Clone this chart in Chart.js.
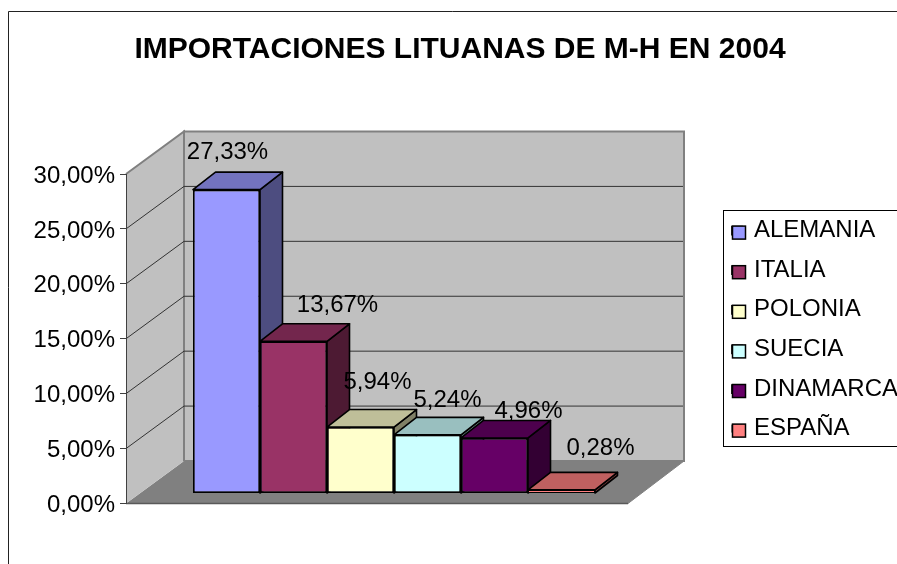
<!DOCTYPE html>
<html>
<head>
<meta charset="utf-8">
<style>
html,body{margin:0;padding:0;background:#fff;overflow:hidden}
canvas{display:block}
</style>
<script src="https://cdn.jsdelivr.net/npm/chart.js@4"></script>
</head>
<body>
<canvas id="c" width="897" height="564" style="width:897px;height:564px"></canvas>
<script>
const categories = [''];
const seriesNames = ['ALEMANIA', 'ITALIA', 'POLONIA', 'SUECIA', 'DINAMARCA', 'ESPAÑA'];
const seriesValues = [27.33, 13.67, 5.94, 5.24, 4.96, 0.28];
const seriesColors = ['#9999FF', '#993366', '#FFFFCC', '#CCFFFF', '#660066', '#FF8080'];
const chartTitle = 'IMPORTACIONES LITUANAS DE M-H EN 2004';

const FONT = '"Liberation Sans", Arial, sans-serif';
const pct = v => v.toFixed(2).replace('.', ',') + '%';
function shade(hex, k) {
  const n = parseInt(hex.slice(1), 16);
  return 'rgb(' + [n >> 16, (n >> 8) & 255, n & 255].map(c => Math.round(c * k)).join(',') + ')';
}
function poly(ctx, pts, fill, stroke, lw) {
  ctx.beginPath();
  pts.forEach((p, i) => i ? ctx.lineTo(p[0], p[1]) : ctx.moveTo(p[0], p[1]));
  ctx.closePath();
  if (fill) { ctx.fillStyle = fill; ctx.fill(); }
  if (stroke) { ctx.strokeStyle = stroke; ctx.lineWidth = lw; ctx.stroke(); }
}
const WALL_DX = 58, WALL_DY = -42.5, FRONT_W = 502, BACK_W = 500;
const BAR_DX = 22.5, BAR_DY = -17.5;
// label placement relative to the top-centre of each bar's front face
const labelShift = [[1, -37], [44, -36], [17, -45], [20, -34], [34, -27], [39, -42]];

const scene3d = {
  id: 'scene3d',
  afterLayout(chart) {
    const t = chart.titleBlock, l = chart.legend;
    t.left = 23; t.right = 897; t.width = 874;
    const w = l.width, h = l.height;
    l.left = 716.4; l.right = l.left + w; l.top = 203; l.bottom = l.top + h;
  },
  beforeDraw(chart) {
    const ctx = chart.ctx, y = chart.scales.y, L = chart.chartArea.left;
    const y0 = y.getPixelForValue(0), yT = y.getPixelForValue(30);
    const bL = L + WALL_DX, bR = bL + BACK_W;
    ctx.save();
    // outer frame
    ctx.strokeStyle = '#222'; ctx.lineWidth = 1;
    ctx.beginPath(); ctx.moveTo(8.5, 564); ctx.lineTo(8.5, 11.5); ctx.lineTo(897, 11.5); ctx.stroke();
    // floor
    poly(ctx, [[L, y0], [bL, y0 + WALL_DY], [bR, y0 + WALL_DY], [L + FRONT_W, y0]], '#808080');
    // back wall & side wall
    poly(ctx, [[bL, yT + WALL_DY], [bR, yT + WALL_DY], [bR, y0 + WALL_DY], [bL, y0 + WALL_DY]], '#C0C0C0', '#808080', 2);
    poly(ctx, [[L, yT], [bL, yT + WALL_DY], [bL, y0 + WALL_DY], [L, y0]], '#C0C0C0');
    ctx.strokeStyle = '#808080'; ctx.lineWidth = 2;
    ctx.beginPath(); ctx.moveTo(L, yT); ctx.lineTo(bL, yT + WALL_DY); ctx.lineTo(bL, y0 + WALL_DY); ctx.stroke();
    // gridlines following the walls
    ctx.strokeStyle = '#333'; ctx.lineWidth = 1;
    y.ticks.forEach(t => {
      if (t.value === 0 || t.value === 30) return;
      const p = y.getPixelForValue(t.value);
      ctx.beginPath(); ctx.moveTo(L, p); ctx.lineTo(bL, p + WALL_DY); ctx.lineTo(bR - 1, p + WALL_DY); ctx.stroke();
    });
    // floor front + right edge
    ctx.strokeStyle = '#595959'; ctx.lineWidth = 1.5;
    ctx.beginPath(); ctx.moveTo(L, y0); ctx.lineTo(L + FRONT_W, y0); ctx.stroke();
    ctx.strokeStyle = '#808080'; ctx.lineWidth = 1;
    ctx.beginPath(); ctx.moveTo(L + FRONT_W, y0); ctx.lineTo(bR, y0 + WALL_DY); ctx.stroke();
    ctx.restore();
  },
  beforeDatasetsDraw(chart) {
    const ctx = chart.ctx;
    ctx.save();
    ctx.lineJoin = 'round';
    seriesColors.forEach((col, i) => {
      const b = chart.getDatasetMeta(i).data[0];
      const l = b.x - b.width / 2, r = b.x + b.width / 2, t = b.y, bt = b.base;
      poly(ctx, [[r, t], [r + BAR_DX, t + BAR_DY], [r + BAR_DX, bt + BAR_DY], [r, bt]], shade(col, 0.5), '#000', 1.6);
      poly(ctx, [[l, t], [l + BAR_DX, t + BAR_DY], [r + BAR_DX, t + BAR_DY], [r, t]], shade(col, 0.75), '#000', 1.6);
    });
    ctx.restore();
  },
  afterDatasetsDraw(chart) {
    const ctx = chart.ctx;
    ctx.save();
    ctx.fillStyle = '#000';
    ctx.font = '24px ' + FONT;
    ctx.textAlign = 'center';
    ctx.textBaseline = 'middle';
    seriesValues.forEach((v, i) => {
      const b = chart.getDatasetMeta(i).data[0];
      ctx.fillText(pct(v), b.x + labelShift[i][0], b.y + labelShift[i][1]);
    });
    ctx.restore();
  },
  afterDraw(chart) {
    const ctx = chart.ctx, l = chart.legend;
    ctx.save();
    ctx.strokeStyle = '#000'; ctx.lineWidth = 1;
    ctx.strokeRect(723.5, 210.5, 200, 236);
    l.legendHitBoxes.forEach((hb, i) => {
      const cy = hb.top + hb.height / 2 + 2;
      ctx.fillStyle = seriesColors[i];
      ctx.fillRect(732.5, cy - 6.5, 13, 13);
      ctx.strokeStyle = '#000'; ctx.lineWidth = 1.5;
      ctx.strokeRect(732.5, cy - 6.5, 13, 13);
    });
    ctx.restore();
  }
};

new Chart(document.getElementById('c'), {
  type: 'bar',
  data: {
    labels: categories,
    datasets: seriesNames.map((name, i) => ({
      label: name,
      data: [seriesValues[i]],
      backgroundColor: seriesColors[i],
      borderColor: '#000',
      borderWidth: seriesValues[i] < 1 ? 1 : 1.75,
      borderSkipped: false,
      xAxisID: 'x',
      yAxisID: 'yBars',
      categoryPercentage: 0.75,
      barPercentage: 1
    }))
  },
  plugins: [scene3d],
  options: {
    responsive: false,
    animation: false,
    clip: false,
    layout: { padding: { left: 8, right: 235, top: 0, bottom: 60.5 } },
    scales: {
      x: { display: false, offset: true },
      y: {
        position: 'left', min: 0, max: 30,
        afterFit: s => { s.width = 118; },
        ticks: { stepSize: 5, padding: 5, labelOffset: 2, color: '#000', font: { family: FONT, size: 24 }, callback: v => pct(v) },
        grid: { display: true, drawOnChartArea: false, drawTicks: true, tickLength: 6, color: '#404040' },
        border: { display: true, color: '#404040', width: 1 }
      },
      yBars: { display: false, position: 'left', min: -0.946, max: 28.74 }
    },
    plugins: {
      tooltip: { enabled: false },
      title: {
        display: true, text: chartTitle, color: '#000', position: 'top',
        font: { family: FONT, size: 30, weight: 'bold', lineHeight: 1.2 },
        padding: { top: 32, bottom: 106 }
      },
      legend: {
        position: 'chartArea', align: 'start',
        labels: {
          color: '#000', font: { family: FONT, size: 24 },
          boxWidth: 10, boxHeight: 8, padding: 15.6
        }
      }
    }
  }
});
</script>
</body>
</html>
